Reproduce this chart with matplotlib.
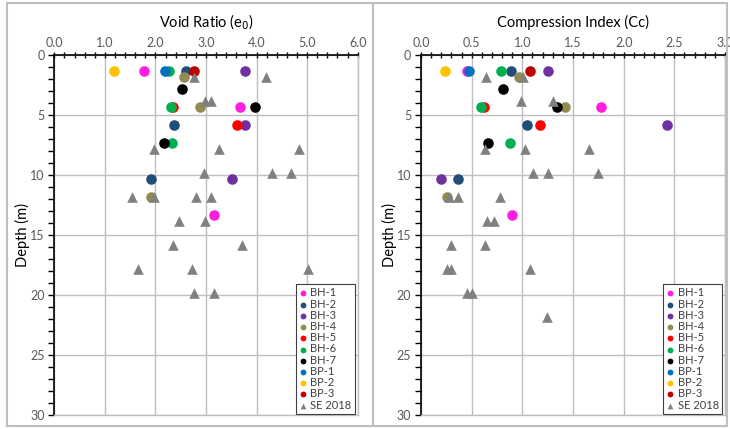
import numpy as np
import matplotlib
matplotlib.use('Agg')
import matplotlib.pyplot as plt
from matplotlib.patches import Rectangle
from matplotlib.ticker import MultipleLocator

plt.rcParams['font.family'] = ['Lato', 'DejaVu Sans']

names = ['BH-1', 'BH-2', 'BH-3', 'BH-4', 'BH-5', 'BH-6', 'BH-7', 'BP-1', 'BP-2', 'BP-3']
colors = ['#FF1DE0', '#1F4E79', '#7030A0', '#948A54', '#FF0000',
          '#00B050', '#000000', '#0070C0', '#FFC000', '#C00000']

# void ratio e0 : (values, depths)
e0 = {
    'BH-1': ([1.77, 3.68, 3.16], [1.3, 4.3, 13.3]),
    'BH-2': ([2.60, 2.37, 1.92], [1.3, 5.8, 10.3]),
    'BH-3': ([3.77, 3.77, 3.51], [1.3, 5.8, 10.3]),
    'BH-4': ([2.57, 2.88, 1.92], [1.8, 4.3, 11.8]),
    'BH-5': ([2.34, 3.61], [4.3, 5.8]),
    'BH-6': ([2.27, 2.31, 2.33], [1.3, 4.3, 7.3]),
    'BH-7': ([2.53, 3.97, 2.17], [2.8, 4.3, 7.3]),
    'BP-1': ([2.18], [1.3]),
    'BP-2': ([1.18], [1.3]),
    'BP-3': ([2.77], [1.3]),
}
se_e0 = [2.76, 4.18, 2.99, 3.09, 1.98, 3.26, 4.83, 2.96, 4.30, 4.69, 1.54, 1.97,
         2.80, 3.10, 2.47, 2.99, 2.35, 3.72, 1.65, 2.72, 5.02, 2.76, 3.16]
se_e0_depth = [1.8, 1.8, 3.8, 3.8, 7.8, 7.8, 7.8, 9.8, 9.8, 9.8, 11.8, 11.8,
               11.8, 11.8, 13.8, 13.8, 15.8, 15.8, 17.8, 17.8, 17.8, 19.8, 19.8]

# compression index Cc : (values, depths)
cc = {
    'BH-1': ([0.45, 1.78, 0.90], [1.3, 4.3, 13.3]),
    'BH-2': ([0.89, 1.05, 0.37], [1.3, 5.8, 10.3]),
    'BH-3': ([1.25, 2.43, 0.20], [1.3, 5.8, 10.3]),
    'BH-4': ([0.97, 1.42, 0.26], [1.8, 4.3, 11.8]),
    'BH-5': ([0.62, 1.17], [4.3, 5.8]),
    'BH-6': ([0.79, 0.59, 0.88], [1.3, 4.3, 7.3]),
    'BH-7': ([0.81, 1.34, 0.66], [2.8, 4.3, 7.3]),
    'BP-1': ([0.47], [1.3]),
    'BP-2': ([0.24], [1.3]),
    'BP-3': ([1.08], [1.3]),
}
se_cc = [0.64, 1.01, 0.99, 1.30, 0.63, 1.03, 1.66, 1.11, 1.25, 1.75, 0.28, 0.37,
         0.78, 0.65, 0.72, 0.30, 0.63, 0.26, 0.30, 1.08, 0.45, 0.50, 1.24]
se_cc_depth = [1.8, 1.8, 3.8, 3.8, 7.8, 7.8, 7.8, 9.8, 9.8, 9.8, 11.8, 11.8,
               11.8, 13.8, 13.8, 15.8, 15.8, 17.8, 17.8, 17.8, 19.8, 19.8, 21.8]

fig = plt.figure(figsize=(7.3, 4.29), dpi=100)

# panel frames
for x0, w in [(7, 366), (373, 354)]:
    fig.patches.append(Rectangle((x0 / 730, 3 / 429), w / 730, 423 / 429,
                                 transform=fig.transFigure, fill=False,
                                 edgecolor='#BFBFBF', lw=1.5))

ax1 = fig.add_axes([54.3 / 730, 14 / 429, 303.4 / 730, 360 / 429])
ax2 = fig.add_axes([421 / 730, 14 / 429, 304 / 730, 360 / 429])


def setup(ax, data, se_x, se_d, xmax, xstep, title):
    for n, c in zip(names, colors):
        xs, ds = data[n]
        ax.scatter(xs, ds, s=58, color=c, label=n, zorder=3, linewidths=0)
    ax.scatter(se_x, se_d, s=58, marker='^', color='#808080', label='SE 2018',
               zorder=4, linewidths=0)
    ax.set_xlim(0, xmax)
    ax.set_ylim(30, 0)
    ax.xaxis.tick_top()
    ax.xaxis.set_major_locator(MultipleLocator(xstep))
    ax.xaxis.set_minor_locator(MultipleLocator(xstep / 5))
    ax.yaxis.set_major_locator(MultipleLocator(5))
    ax.yaxis.set_minor_locator(MultipleLocator(1))
    ax.xaxis.set_major_formatter(matplotlib.ticker.FormatStrFormatter('%.1f'))
    ax.tick_params(axis='x', which='both', direction='inout', length=5,
                   width=1, labelsize=9, labelcolor='#595959', pad=2)
    ax.tick_params(axis='x', which='minor', length=4)
    ax.tick_params(axis='y', which='both', direction='out', length=4,
                   width=1, labelsize=9, labelcolor='#595959', pad=3)
    ax.grid(True, which='major', color='#BFBFBF', lw=1)
    ax.set_axisbelow(True)
    for s in ['left', 'top']:
        ax.spines[s].set_color('black')
        ax.spines[s].set_linewidth(1.2)
    for s in ['right', 'bottom']:
        ax.spines[s].set_color('#BFBFBF')
        ax.spines[s].set_linewidth(1)
    ax.text(0.5, 1.09, title, transform=ax.transAxes, ha='center', va='center',
            fontsize=10.5)
    ax.set_ylabel('Depth (m)', fontsize=10.5, labelpad=0)
    leg = ax.legend(loc='lower right', bbox_to_anchor=(0.99, 0.003),
                    borderaxespad=0, fontsize=8, labelspacing=0.02,
                    handlelength=0.7, handletextpad=0.3, borderpad=0.3,
                    markerscale=0.55, fancybox=False, framealpha=1)
    leg.get_frame().set_edgecolor('#404040')
    leg.get_frame().set_linewidth(0.8)
    for t in leg.get_texts():
        t.set_color('#404040')


setup(ax1, e0, se_e0, se_e0_depth, 6, 1.0, 'Void Ratio (e$_0$)')
setup(ax2, cc, se_cc, se_cc_depth, 3, 0.5, 'Compression Index (Cc)')

fig.savefig('out.png', dpi=100)
